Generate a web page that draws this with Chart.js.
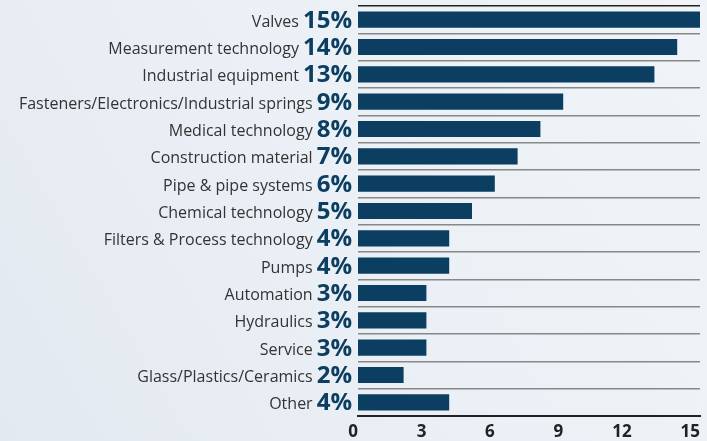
<!DOCTYPE html>
<html>
<head>
<meta charset="utf-8">
<script src="https://cdn.jsdelivr.net/npm/chart.js@4"></script>
<style>
  html, body { margin: 0; padding: 0; }
  body {
    width: 707px; height: 441px; overflow: hidden;
    background: linear-gradient(60deg, #e3e9f0 0%, #eaf0f5 50%, #f0f4f8 100%);
  }
  #wrap { width: 707px; height: 441px; }
</style>
</head>
<body>
<div id="wrap"><canvas id="shareChart"></canvas></div>
<script>
const categories = ['Valves', 'Measurement technology', 'Industrial equipment',
  'Fasteners/Electronics/Industrial springs', 'Medical technology', 'Construction material',
  'Pipe & pipe systems', 'Chemical technology', 'Filters & Process technology', 'Pumps',
  'Automation', 'Hydraulics', 'Service', 'Glass/Plastics/Ceramics', 'Other'];
const shares = [15, 14, 13, 9, 8, 7, 6, 5, 4, 4, 3, 3, 3, 2, 4];
const xTicks = [0, 3, 6, 9, 12, 15];

const NAVY = '#0b3e61';

// category name + big bold percentage, left of each bar
const sideLabels = {
  id: 'sideLabels',
  afterDraw(chart) {
    const ctx = chart.ctx;
    const y = chart.scales.y;
    const right = chart.chartArea.left - 6;
    ctx.save();
    ctx.textAlign = 'right';
    ctx.textBaseline = 'alphabetic';
    categories.forEach((name, i) => {
      const cy = y.getPixelForValue(i);
      const pct = shares[i] + '%';
      ctx.font = 'bold 24px "Open Sans"';
      ctx.fillStyle = NAVY;
      ctx.fillText(pct, right, cy + 8);
      const pw = ctx.measureText(pct).width;
      ctx.font = '16px "Open Sans"';
      ctx.fillStyle = '#333';
      ctx.fillText(name, right - pw - 4, cy + 7);
    });
    ctx.restore();
  }
};

document.addEventListener('DOMContentLoaded', () => {
  Chart.defaults.font.family = '"Open Sans", sans-serif';
  const ctx = document.getElementById('shareChart').getContext('2d');
  new Chart(ctx, {
    type: 'bar',
    data: {
      labels: categories,
      datasets: [{
        data: shares,
        backgroundColor: NAVY,
        barPercentage: 0.59,
        categoryPercentage: 1
      }]
    },
    options: {
      indexAxis: 'y',
      responsive: true,
      maintainAspectRatio: false,
      animation: false,
      layout: { padding: { left: 358, right: 3, top: 6, bottom: 0 } },
      plugins: {
        legend: { display: false },
        tooltip: { enabled: false }
      },
      scales: {
        x: {
          min: 0,
          max: 15,
          afterBuildTicks: (axis) => { axis.ticks = xTicks.map(v => ({ value: v })); },
          afterFit: (axis) => { axis.height = 25; },
          grid: { display: false, drawTicks: false },
          border: { display: true, color: '#222', width: 2 },
          ticks: {
            align: 'end',
            padding: 7,
            color: '#222',
            font: { size: 17, weight: 'bold', lineHeight: 1.1 }
          }
        },
        y: {
          grid: {
            offset: true,
            drawTicks: false,
            lineWidth: 1.5,
            color: (c) => c.index === 0 ? '#222' : '#888'
          },
          border: { display: false },
          ticks: { display: false }
        }
      }
    },
    plugins: [sideLabels]
  });
});
</script>
</body>
</html>
